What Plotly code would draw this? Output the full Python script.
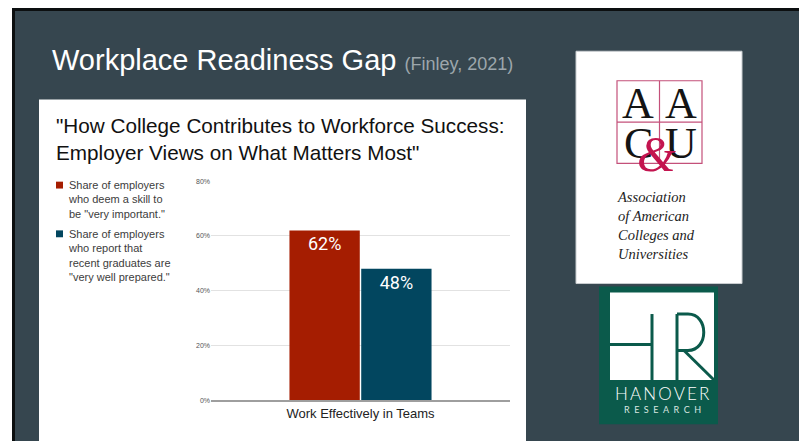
import plotly.graph_objects as go

# ---- data ----
categories = ["Work Effectively in Teams"]
series_names = [
    "Share of employers<br>who deem a skill to<br>be \"very important.\"",
    "Share of employers<br>who report that<br>recent graduates are<br>\"very well prepared.\"",
]
important = [62]
prepared = [48]
y_ticks = [0, 20, 40, 60, 80]
y_tick_labels = ["0%", "20%", "40%", "60%", "80%"]
colors = ["#a51d01", "#02465f"]

W, H = 799, 444
def X(p): return p / W
def Y(p): return 1 - p / H

fig = go.Figure()
for vals, col in zip([important, prepared], colors):
    fig.add_trace(go.Bar(
        x=categories, y=vals, marker=dict(color=col, line=dict(width=0)),
        text=[f"{v}%" for v in vals], textposition="inside", insidetextanchor="end",
        textfont=dict(family="Roboto, Liberation Sans", size=18, color="white"),
        showlegend=False, hoverinfo="skip",
    ))

shapes = []
# slide frame
shapes.append(dict(type="rect", xref="paper", yref="paper", x0=X(12), x1=X(799), y0=Y(444), y1=Y(4),
                   fillcolor="#0c0f10", line=dict(width=0), layer="below"))
shapes.append(dict(type="rect", xref="paper", yref="paper", x0=X(15), x1=X(799), y0=Y(444), y1=Y(7),
                   fillcolor="#36464f", line=dict(width=0), layer="below"))
# chart panel
shapes.append(dict(type="rect", xref="paper", yref="paper", x0=X(39), x1=X(526), y0=Y(444), y1=Y(97),
                   fillcolor="white", line=dict(width=0), layer="below"))
# AAC&U panel
shapes.append(dict(type="rect", xref="paper", yref="paper", x0=X(576), x1=X(742), y0=Y(284), y1=Y(48),
                   fillcolor="white", line=dict(width=1, color="#c9cdd0")))
pink = "#c4507a"
shapes.append(dict(type="rect", xref="paper", yref="paper", x0=X(617), x1=X(702), y0=Y(162), y1=Y(78),
                   fillcolor="rgba(0,0,0,0)", line=dict(width=1.2, color=pink)))
shapes.append(dict(type="line", xref="paper", yref="paper", x0=X(659.5), x1=X(659.5), y0=Y(162), y1=Y(78),
                   line=dict(width=1.2, color=pink)))
shapes.append(dict(type="line", xref="paper", yref="paper", x0=X(617), x1=X(702), y0=Y(120), y1=Y(120),
                   line=dict(width=1.2, color=pink)))
# Hanover logo
green = "#0b5a4b"
shapes.append(dict(type="rect", xref="paper", yref="paper", x0=X(599), x1=X(718), y0=Y(427), y1=Y(287),
                   fillcolor=green, line=dict(width=0)))
shapes.append(dict(type="rect", xref="paper", yref="paper", x0=X(610), x1=X(714), y0=Y(382), y1=Y(293),
                   fillcolor="white", line=dict(width=0)))
for (x0, y0, x1, y1) in [(652, 315, 652, 382), (610, 346, 652, 346), (677, 315, 677, 382), (684, 352, 714, 382)]:
    shapes.append(dict(type="line", xref="paper", yref="paper", x0=X(x0), x1=X(x1), y0=Y(y0), y1=Y(y1),
                       line=dict(width=3, color=green)))
path = (f"M {X(677)},{Y(315)} L {X(688)},{Y(315)} C {X(709)},{Y(315)} {X(709)},{Y(352)} {X(688)},{Y(352)} "
        f"L {X(677)},{Y(352)}")
shapes.append(dict(type="path", xref="paper", yref="paper", path=path, line=dict(width=3, color=green)))

# legend squares
for col, yc in zip(colors, [184, 233.5]):
    shapes.append(dict(type="rect", xref="paper", yref="paper", x0=X(56), x1=X(63), y0=Y(yc + 3.5), y1=Y(yc - 3.5),
                       fillcolor=col, line=dict(width=0)))

ann = []
ann.append(dict(xref="paper", yref="paper", x=X(50), y=Y(57), xanchor="left", yanchor="middle", showarrow=False,
                text="Workplace Readiness Gap <span style='font-size:18px;color:#9da6ac'>(Finley, 2021)</span>",
                font=dict(family="Liberation Sans", size=29, color="white")))
ann.append(dict(xref="paper", yref="paper", x=X(54), y=Y(137), xanchor="left", yanchor="middle", showarrow=False,
                align="left",
                text="\"How College Contributes to Workforce Success:<br>Employer Views on What Matters Most\"",
                font=dict(family="Liberation Sans, Arial", size=20.7, color="#111111")))
for name, ytop in zip(series_names, [176, 225.5]):
    ann.append(dict(xref="paper", yref="paper", x=X(66), y=Y(ytop), xanchor="left", yanchor="top", showarrow=False,
                    align="left", text=name,
                    font=dict(family="Liberation Sans, Arial", size=11, color="#3c3c3c")))
# AAC&U letters
for t, xc, yc in [("A", 638, 101), ("A", 681, 101), ("C", 638, 142), ("U", 681, 142)]:
    ann.append(dict(xref="paper", yref="paper", x=X(xc), y=Y(yc), xanchor="center", yanchor="middle", showarrow=False,
                    text=t, font=dict(family="Liberation Serif, DejaVu Serif", size=44, color="#141414")))
ann.append(dict(xref="paper", yref="paper", x=X(656), y=Y(152), xanchor="center", yanchor="middle", showarrow=False,
                text="<i>&amp;</i>", font=dict(family="Liberation Serif, DejaVu Serif", size=50, color="#c3144f")))
ann.append(dict(xref="paper", yref="paper", x=X(656), y=Y(225), xanchor="center", yanchor="middle", showarrow=False,
                align="left",
                text="<i>Association<br>of American<br>Colleges and<br>Universities</i>",
                font=dict(family="Liberation Serif, DejaVu Serif", size=14.5, color="#222222")))
ann.append(dict(xref="paper", yref="paper", x=X(662), y=Y(396), xanchor="center", yanchor="middle", showarrow=False,
                text="\u2009".join("HANOVER"),
                font=dict(family="Lato, Roboto, Liberation Sans", size=17, color="white", weight=300)))
ann.append(dict(xref="paper", yref="paper", x=X(662), y=Y(411.5), xanchor="center", yanchor="middle", showarrow=False,
                text="\u2002".join("RESEARCH"),
                font=dict(family="Lato, Roboto, Liberation Sans", size=9, color="#d8e6e0")))

fig.update_layout(
    width=W, height=H, margin=dict(l=0, r=0, t=0, b=0),
    paper_bgcolor="white", plot_bgcolor="rgba(0,0,0,0)",
    barmode="group", bargap=0.52, bargroupgap=0.02,
    shapes=shapes, annotations=ann,
    xaxis=dict(domain=[X(211), X(510)], showgrid=False, showline=True, linecolor="#9e9e9e", linewidth=2,
               ticks="", tickfont=dict(family="Liberation Sans, Arial", size=13, color="#222222"),
               fixedrange=True),
    yaxis=dict(domain=[Y(402.7), Y(180)], range=[0, 80], tickvals=y_ticks, ticktext=y_tick_labels,
               showgrid=True, gridcolor="#e2e2e2", gridwidth=1, zeroline=False, showline=False, ticks="",
               tickfont=dict(family="Liberation Sans, Arial", size=7, color="#555555"), fixedrange=True),
    font=dict(family="Liberation Sans, Arial"),
)
fig.write_html("out.html")
